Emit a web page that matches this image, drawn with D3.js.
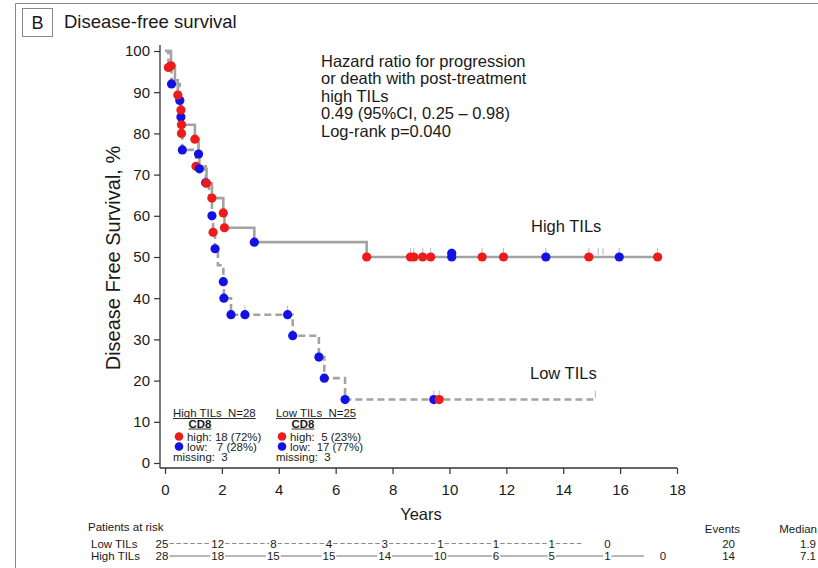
<!DOCTYPE html>
<html>
<head>
<meta charset="utf-8">
<script src="https://cdn.jsdelivr.net/npm/d3@7"></script>
<style>
  body { margin: 0; background: #fff; }
  svg { display: block; }
  text { font-family: "Liberation Sans", Arial, Helvetica, sans-serif; fill: #1a1a1a; }
</style>
</head>
<body>
<svg id="chart" width="818" height="568"></svg>
<script>
// ---- Kaplan–Meier steps (years, disease-free survival %) ----
const highStepTimes = [0.21, 0.35, 0.45, 0.56, 0.58, 1.05, 1.18, 1.21, 1.46, 1.65, 2.05, 2.09, 3.14, 7.09];
const highStepSurv  = [96.4, 92.9, 89.3, 85.7, 82.1, 78.6, 75.0, 71.4, 67.9, 64.3, 60.7, 57.1, 53.6, 50.0];
const highEnd = 17.32;

const lowStepTimes = [0.12, 0.23, 0.52, 0.56, 0.58, 0.61, 1.09, 1.43, 1.55, 1.65, 1.69, 1.76, 1.86, 2.05, 2.07, 2.32, 4.49, 5.41, 5.60, 6.33];
const lowStepSurv  = [96, 92, 88, 84, 80, 76, 72, 68, 64, 60, 56, 52, 48, 44, 40, 36, 30.9, 25.7, 20.6, 15.4];
const lowEnd = 15.13;

// ---- Individual patients, coloured by CD8 status ----
const highDotTimes = [0.21, 0.45, 0.56, 0.58, 1.05, 1.18, 1.21, 1.46, 1.65, 2.05, 2.09, 3.14, 7.09, 8.63, 8.75, 9.06, 9.34, 10.08, 10.08, 11.15, 11.9, 13.39, 14.9, 15.97, 17.32];
const highDotSurv  = [96.4, 89.3, 85.7, 82.1, 78.6, 75.0, 71.4, 67.9, 64.3, 60.7, 57.1, 53.6, 50, 50, 50, 50, 50, 50.9, 50, 50, 50, 50, 50, 50, 50];
const highDotCD8   = ["high","high","high","high","high","low","low","high","high","high","high","low","high","high","high","high","high","low","low","high","high","low","high","low","high"];

const lowDotTimes = [0.12, 0.23, 0.52, 0.56, 0.58, 0.61, 1.09, 1.43, 1.65, 1.69, 1.76, 2.05, 2.07, 2.32, 2.81, 4.31, 4.49, 5.41, 5.60, 6.33, 9.45, 9.64];
const lowDotSurv  = [96, 92, 88, 84, 80, 76, 72, 68, 60, 56, 52, 44, 40, 36, 36, 36, 30.9, 25.7, 20.6, 15.4, 15.4, 15.4];
const lowDotCD8   = ["high","low","low","low","high","low","high","low","low","high","low","low","low","low","low","low","low","low","low","low","low","high"];

// ---- Censoring marks (time, survival level) ----
const highCensorTimes = [8.63, 8.75, 9.06, 9.34, 10.08, 11.15, 11.9, 13.39, 14.9, 15.23, 15.4, 15.97, 17.32];
const highCensorSurv  = [50, 50, 50, 50, 50, 50, 50, 50, 50, 50, 50, 50, 50];
const lowCensorTimes  = [2.81, 4.31, 9.45, 9.64, 15.13];
const lowCensorSurv   = [36, 36, 15.4, 15.4, 15.4];

// ---- Number at risk ----
const riskTimes  = [0, 2, 4, 6, 8, 10, 12, 14, 16, 18];
const lowAtRisk  = [25, 12, 8, 4, 3, 1, 1, 1, 0];
const highAtRisk = [28, 18, 15, 15, 14, 10, 6, 5, 1, 0];
const groupEvents = [20, 14];
const groupMedian = ["1.9", "7.1"];

// ---- Legend content ----
const legendGroups   = ["High TILs", "Low TILs"];
const legendN        = [28, 25];
const legendCD8High  = [18, 5];
const legendCD8Low   = [7, 17];
const legendHighPct  = [72, 23];
const legendLowPct   = [28, 77];
const legendMissing  = [3, 3];

const hazardLines = [
  "Hazard ratio for progression",
  "or death with post-treatment",
  "high TILs",
  "0.49 (95%CI, 0.25 \u2013 0.98)",
  "Log-rank p=0.040"
];

const xTicks = [0, 2, 4, 6, 8, 10, 12, 14, 16, 18];
const yTicks = [0, 10, 20, 30, 40, 50, 60, 70, 80, 90, 100];

const colorFor = { high: "#ee1b1b", low: "#1212e6" };
const lineGray = "#a3a3a3";

const svg = d3.select("#chart");

// Outer frame
svg.append("path")
  .attr("d", "M15.5,568 V3.5 H818")
  .attr("fill", "none").attr("stroke", "#8a8a8a").attr("stroke-width", 1);

// Panel label and title
svg.append("rect").attr("x", 22.5).attr("y", 8.5).attr("width", 30).attr("height", 28)
  .attr("fill", "none").attr("stroke", "#8a8a8a");
svg.append("text").attr("x", 37.5).attr("y", 29).attr("text-anchor", "middle")
  .attr("font-size", 18).text("B");
svg.append("text").attr("x", 64).attr("y", 28).attr("font-size", 18.5).text("Disease-free survival");

// Scales
const x = d3.scaleLinear().domain([0, 18]).range([165, 677]);
const y = d3.scaleLinear().domain([0, 100]).range([463, 51]);
const axisX0 = 160, axisY0 = 468;

// Y axis
const gy = svg.append("g").attr("transform", `translate(${axisX0},0)`);
gy.call(d3.axisLeft(y).tickValues(d3.range(0, 101, 5)).tickSize(3).tickFormat(""));
gy.call(d3.axisLeft(y).tickValues(yTicks).tickSize(6).tickPadding(4));
gy.selectAll(".domain").remove();
gy.selectAll("text").attr("font-size", 15).attr("fill", "#1a1a1a").style("font-family", '"Liberation Sans", Arial, sans-serif');
gy.selectAll("line").attr("stroke", "#333").attr("stroke-width", 1.2);
svg.append("line").attr("x1", axisX0).attr("x2", axisX0).attr("y1", 45).attr("y2", axisY0)
  .attr("stroke", "#333").attr("stroke-width", 1.3);

// X axis
const gx = svg.append("g").attr("transform", `translate(0,${axisY0})`);
gx.call(d3.axisBottom(x).tickValues(d3.range(0, 18.01, 0.5)).tickSize(3).tickFormat(""));
gx.call(d3.axisBottom(x).tickValues(xTicks).tickSize(6).tickPadding(10));
gx.selectAll(".domain").remove();
gx.selectAll("text").attr("font-size", 15).attr("fill", "#1a1a1a").style("font-family", '"Liberation Sans", Arial, sans-serif');
gx.selectAll("line").attr("stroke", "#333").attr("stroke-width", 1.2);
svg.append("line").attr("x1", axisX0).attr("x2", x(18)).attr("y1", axisY0).attr("y2", axisY0)
  .attr("stroke", "#333").attr("stroke-width", 1.3);

// Axis titles
svg.append("text").attr("x", 421).attr("y", 520).attr("text-anchor", "middle")
  .attr("font-size", 16.5).text("Years");
svg.append("text").attr("transform", `translate(120,258) rotate(-90)`).attr("text-anchor", "middle")
  .attr("font-size", 20).text("Disease Free Survival, %");

// Step curves
function stepPoints(times, surv, end) {
  const pts = [[0, 100]];
  times.forEach((t, i) => pts.push([t, surv[i]]));
  pts.push([end, surv[surv.length - 1]]);
  return pts;
}
const stepLine = d3.line().x(d => x(d[0])).y(d => y(d[1])).curve(d3.curveStepAfter);

svg.append("path").datum(stepPoints(lowStepTimes, lowStepSurv, lowEnd))
  .attr("d", stepLine).attr("fill", "none").attr("stroke", lineGray)
  .attr("stroke-width", 2.6).attr("stroke-dasharray", "7,4");
svg.append("path").datum(stepPoints(highStepTimes, highStepSurv, highEnd))
  .attr("d", stepLine).attr("fill", "none").attr("stroke", lineGray)
  .attr("stroke-width", 2.6);

// Censor marks
function censorMarks(times, levels) {
  svg.append("g").selectAll("line").data(times.map((t, i) => ({ t, s: levels[i] }))).join("line")
    .attr("x1", d => x(d.t)).attr("x2", d => x(d.t))
    .attr("y1", d => y(d.s) - 2).attr("y2", d => y(d.s) - 9)
    .attr("stroke", "#b8b8b8").attr("stroke-width", 1);
}
censorMarks(highCensorTimes, highCensorSurv);
censorMarks(lowCensorTimes, lowCensorSurv);

// Patient dots
function dots(times, surv, cd8) {
  svg.append("g").selectAll("circle").data(times.map((t, i) => ({ t, s: surv[i], c: cd8[i] }))).join("circle")
    .attr("cx", d => x(d.t)).attr("cy", d => y(d.s)).attr("r", 4.6)
    .attr("fill", d => colorFor[d.c]);
}
dots(lowDotTimes, lowDotSurv, lowDotCD8);
dots(highDotTimes, highDotSurv, highDotCD8);

// Curve labels
svg.append("text").attr("x", 531).attr("y", 232).attr("font-size", 16.5).text("High TILs");
svg.append("text").attr("x", 530).attr("y", 379).attr("font-size", 16.5).text("Low TILs");

// Hazard ratio annotation
svg.append("g").selectAll("text").data(hazardLines).join("text")
  .attr("x", 321).attr("y", (d, i) => 66.5 + i * 17.6)
  .attr("font-size", 16.5).text(d => d);

// CD8 legend blocks (slightly condensed type)
const legendX = [173, 276];
const legendFont = 10.4, legendStretch = 1.1;
function legendText(parent, tx, ty, str, anchor, bold) {
  const t = parent.append("text")
    .attr("transform", `translate(${tx},${ty}) scale(${legendStretch},1)`)
    .attr("font-size", legendFont).style("white-space", "pre")
    .attr("text-anchor", anchor || "start").text(str);
  if (bold) t.attr("font-weight", "bold");
  return t.node().getComputedTextLength() * legendStretch;
}
legendGroups.forEach((g, i) => {
  const x0 = legendX[i];
  const grp = svg.append("g");
  const hw = legendText(grp, x0, 417, `${g}  N=${legendN[i]}`);
  grp.append("line").attr("x1", x0).attr("x2", x0 + hw).attr("y1", 418.5).attr("y2", 418.5)
    .attr("stroke", "#1a1a1a").attr("stroke-width", 0.9);
  const cw = legendText(grp, x0 + 27, 427.5, "CD8", "middle", true);
  grp.append("line").attr("x1", x0 + 27 - cw / 2).attr("x2", x0 + 27 + cw / 2).attr("y1", 429).attr("y2", 429)
    .attr("stroke", "#1a1a1a").attr("stroke-width", 0.9);
  grp.append("circle").attr("cx", x0 + 6).attr("cy", 436.5).attr("r", 4.3).attr("fill", colorFor.high);
  grp.append("circle").attr("cx", x0 + 6).attr("cy", 446.5).attr("r", 4.3).attr("fill", colorFor.low);
  const pad = n => (n < 10 ? " " + n : "" + n);
  legendText(grp, x0 + 14, 440.5, `high: ${pad(legendCD8High[i])} (${legendHighPct[i]}%)`);
  legendText(grp, x0 + 14, 450.5, `low:  ${pad(legendCD8Low[i])} (${legendLowPct[i]}%)`);
  legendText(grp, x0, 460.5, `missing:  ${legendMissing[i]}`);
});

// Patients-at-risk table
const riskX = d3.scaleLinear().domain([0, 18]).range([162, 663]);
svg.append("text").attr("x", 88).attr("y", 531).attr("font-size", 11.5).text("Patients at risk");

function riskRow(label, counts, rowY, endTime, dashed) {
  svg.append("text").attr("x", 91).attr("y", rowY).attr("font-size", 11.5).text(label);
  const labels = counts.map((n, i) => {
    const t = svg.append("text").attr("x", riskX(riskTimes[i])).attr("y", rowY)
      .attr("text-anchor", "middle").attr("font-size", 11.5).text(n);
    return { w: t.node().getComputedTextLength(), cx: riskX(riskTimes[i]) };
  });
  for (let i = 0; i < labels.length - 1; i++) {
    const x1 = labels[i].cx + labels[i].w / 2 + 1;
    const x2 = counts[i + 1] === 0 ? riskX(endTime) : labels[i + 1].cx - labels[i + 1].w / 2 - 1;
    const ln = svg.append("line").attr("x1", x1).attr("x2", x2).attr("y1", rowY - 4).attr("y2", rowY - 4)
      .attr("stroke", dashed ? "#8c8c8c" : "#a0a0a0").attr("stroke-width", dashed ? 1 : 1.6);
    if (dashed) ln.attr("stroke-dasharray", "4.5,2.5");
  }
}
riskRow("Low TILs", lowAtRisk, 547.5, lowEnd, true);
riskRow("High TILs", highAtRisk, 560, highEnd, false);

// Events and median columns
svg.append("text").attr("x", 740).attr("y", 533).attr("text-anchor", "end").attr("font-size", 11.5).text("Events");
svg.append("text").attr("x", 817).attr("y", 533).attr("text-anchor", "end").attr("font-size", 11.5).text("Median");
[547.5, 560].forEach((ry, i) => {
  svg.append("text").attr("x", 735).attr("y", ry).attr("text-anchor", "end").attr("font-size", 11.5).text(groupEvents[i]);
  svg.append("text").attr("x", 816).attr("y", ry).attr("text-anchor", "end").attr("font-size", 11.5).text(groupMedian[i]);
});
</script>
</body>
</html>
